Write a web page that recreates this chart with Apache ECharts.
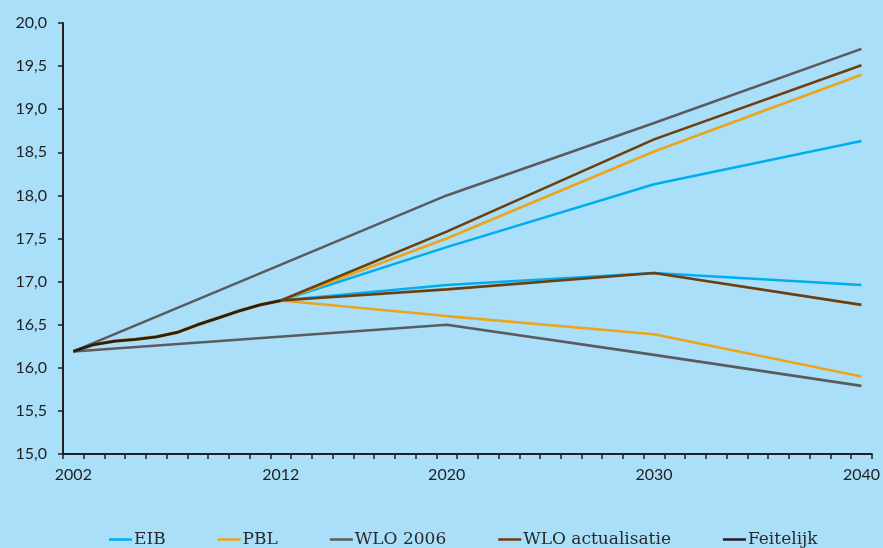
<!DOCTYPE html>
<html>
<head>
<meta charset="utf-8">
<script src="https://cdn.jsdelivr.net/npm/echarts@6/dist/echarts.min.js"></script>
<style>
  html, body { margin: 0; padding: 0; background: #A9DFF9; }
  #chart { width: 883px; height: 548px; }
</style>
</head>
<body>
<div id="chart"></div>
<script>
// Yearly categories 2002..2040
const years = [];
for (let y = 2002; y <= 2040; y++) years.push(String(y));
const labelYears = ['2002', '2012', '2020', '2030', '2040'];

// Observed values 2002..2012
const historyYears = ['2002','2003','2004','2005','2006','2007','2008','2009','2010','2011','2012'];
const feitelijk = [16.19, 16.27, 16.31, 16.33, 16.36, 16.41, 16.50, 16.58, 16.66, 16.73, 16.78];

// Scenario years and values (high / low variants)
const scenarioYears = ['2012', '2020', '2030', '2040'];
const eibHigh = [16.78, 17.40, 18.13, 18.63];
const eibLow  = [16.78, 16.96, 17.10, 16.96];
const pblHigh = [16.78, 17.50, 18.51, 19.40];
const pblLow  = [16.78, 16.60, 16.39, 15.90];
const wloActHigh = [16.78, 17.58, 18.65, 19.51];
const wloActLow  = [16.78, 16.91, 17.10, 16.73];

const wlo2006Years = ['2002', '2020', '2030', '2040'];
const wlo2006High = [16.19, 18.00, 18.84, 19.70];
const wlo2006Low  = [16.19, 16.50, 16.15, 15.79];

const colors = {
  'EIB': '#00AEEF',
  'PBL': '#EAA51C',
  'WLO 2006': '#5B5B5D',
  'WLO actualisatie': '#6E3E0C',
  'Feitelijk': '#231F20'
};

function pairs(xs, ys) { return xs.map((x, i) => [x, ys[i]]); }

function lineSeries(name, xs, ys, width) {
  return {
    name: name,
    type: 'line',
    data: pairs(xs, ys),
    symbol: 'none',
    connectNulls: true,
    lineStyle: { color: colors[name], width: width || 2.6 },
    itemStyle: { color: colors[name] },
    emphasis: { disabled: true },
    animation: false
  };
}

const series = [
  lineSeries('EIB', scenarioYears, eibHigh),
  lineSeries('EIB', scenarioYears, eibLow),
  lineSeries('PBL', historyYears, feitelijk, 3.6),
  lineSeries('PBL', scenarioYears, pblHigh),
  lineSeries('PBL', scenarioYears, pblLow),
  lineSeries('WLO 2006', wlo2006Years, wlo2006High),
  lineSeries('WLO 2006', wlo2006Years, wlo2006Low),
  lineSeries('WLO actualisatie', scenarioYears, wloActHigh),
  lineSeries('WLO actualisatie', scenarioYears, wloActLow),
  lineSeries('Feitelijk', historyYears, feitelijk, 2.8)
];

const chart = echarts.init(document.getElementById('chart'), null, { renderer: 'canvas' });
chart.setOption({
  backgroundColor: '#A9DFF9',
  animation: false,
  grid: { left: 63, right: 11, top: 23, bottom: 94 },
  legend: {
    data: ['EIB', 'PBL', 'WLO 2006', 'WLO actualisatie', 'Feitelijk'],
    left: 104,
    bottom: -5,
    icon: 'rect',
    itemWidth: 23,
    itemHeight: 2.5,
    itemGap: 52,
    textStyle: {
      fontFamily: 'DejaVu Serif',
      fontSize: 17,
      color: '#2a2a2a',
      padding: [0, 0, 0, -3]
    }
  },
  xAxis: {
    type: 'category',
    data: years,
    boundaryGap: true,
    axisLine: { lineStyle: { color: '#231F20', width: 2 } },
    axisTick: {
      show: true,
      interval: 0,
      alignWithLabel: false,
      length: 5,
      lineStyle: { color: '#231F20', width: 1.5 }
    },
    axisLabel: {
      interval: (idx, val) => labelYears.indexOf(val) >= 0,
      margin: 13,
      fontFamily: 'Lato',
      fontSize: 16,
      color: '#231F20'
    },
    splitLine: { show: false }
  },
  yAxis: {
    type: 'value',
    min: 15,
    max: 20,
    interval: 0.5,
    axisLine: { show: true, lineStyle: { color: '#231F20', width: 2 } },
    axisTick: { show: true, length: 5, lineStyle: { color: '#231F20', width: 1.5 } },
    axisLabel: {
      margin: 16,
      fontFamily: 'Lato',
      fontSize: 16,
      color: '#231F20',
      formatter: v => v.toFixed(1).replace('.', ',')
    },
    splitLine: { show: false }
  },
  series: series
});
</script>
</body>
</html>
